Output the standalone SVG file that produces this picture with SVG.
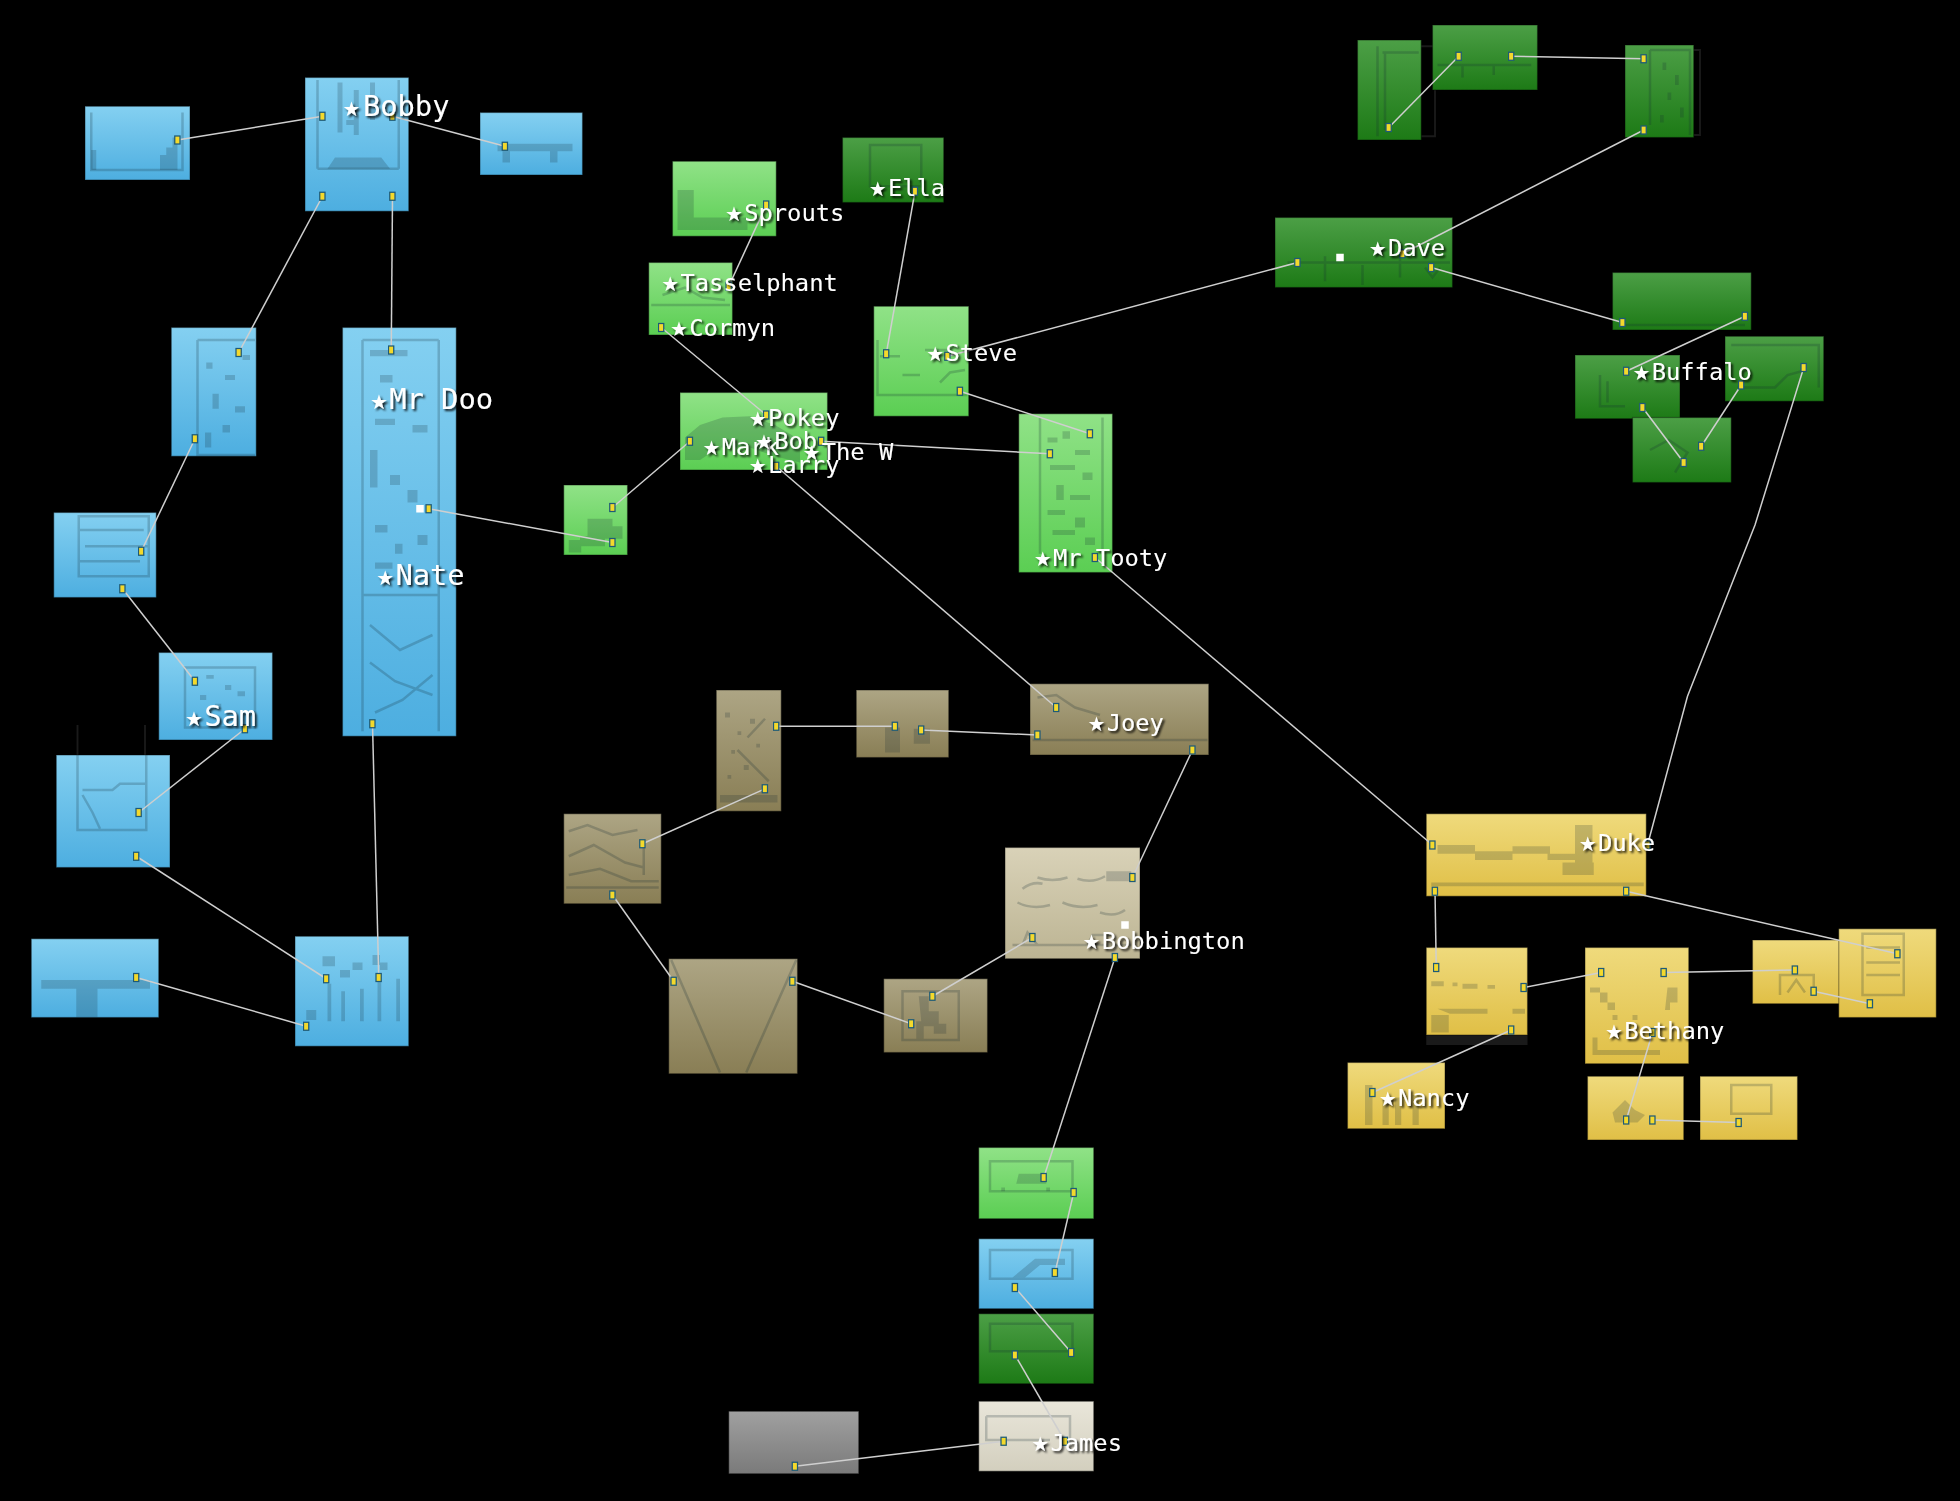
<svg xmlns="http://www.w3.org/2000/svg" width="1960" height="1501" viewBox="0 0 1960 1501">
<defs>
<linearGradient id="gBlue" x1="0" y1="0" x2="0" y2="1"><stop offset="0" stop-color="#84d0f1"/><stop offset="1" stop-color="#4daee0"/></linearGradient>
<linearGradient id="gLG" x1="0" y1="0" x2="0" y2="1"><stop offset="0" stop-color="#90e287"/><stop offset="1" stop-color="#5bce53"/></linearGradient>
<linearGradient id="gDG" x1="0" y1="0" x2="0" y2="1"><stop offset="0" stop-color="#4c9f46"/><stop offset="1" stop-color="#1d7a16"/></linearGradient>
<linearGradient id="gBr" x1="0" y1="0" x2="0" y2="1"><stop offset="0" stop-color="#ada584"/><stop offset="1" stop-color="#897e55"/></linearGradient>
<linearGradient id="gBeige" x1="0" y1="0" x2="0" y2="1"><stop offset="0" stop-color="#d9d2b8"/><stop offset="1" stop-color="#bcb493"/></linearGradient>
<linearGradient id="gY" x1="0" y1="0" x2="0" y2="1"><stop offset="0" stop-color="#efda7c"/><stop offset="1" stop-color="#e0bf46"/></linearGradient>
<linearGradient id="gGray" x1="0" y1="0" x2="0" y2="1"><stop offset="0" stop-color="#a0a0a0"/><stop offset="1" stop-color="#7a7a7a"/></linearGradient>
<linearGradient id="gPale" x1="0" y1="0" x2="0" y2="1"><stop offset="0" stop-color="#e9e6da"/><stop offset="1" stop-color="#d3cfbe"/></linearGradient>
<marker id="ep" markerWidth="6" markerHeight="9" refX="3" refY="4.5" markerUnits="userSpaceOnUse">
<rect x="0.8" y="1.3" width="4.2" height="6.4" fill="#f4d92c" stroke="#1d5a78" stroke-width="1"/>
</marker>
<filter id="ds" x="-10%" y="-30%" width="130%" height="170%">
<feDropShadow dx="1.6" dy="1.6" stdDeviation="0.7" flood-color="#000" flood-opacity="0.85"/>
</filter>
<style>
.box{stroke:rgba(0,0,0,0.35);stroke-width:1}
.blue{fill:url(#gBlue)} .lg{fill:url(#gLG)} .dg{fill:url(#gDG)} .br{fill:url(#gBr)}
.beige{fill:url(#gBeige)} .yel{fill:url(#gY)} .gray{fill:url(#gGray)} .pale{fill:url(#gPale)}
.af{fill:rgba(20,40,50,0.2);stroke:none}
.as{fill:none;stroke:rgba(20,40,50,0.22);stroke-width:2}
.conn line,.conn polyline{stroke:#cfcfcf;stroke-width:1.2;fill:none;marker-start:url(#ep);marker-end:url(#ep)}
.lbl{font-family:"DejaVu Sans Mono","Liberation Mono",monospace;fill:#ffffff;font-size:19px;filter:url(#ds)}
.big{font-size:23px}
.st{font-family:"DejaVu Sans",sans-serif;font-size:16px}
.wsq{fill:#ffffff}
.dk{fill:none;stroke:#1a1a1a;stroke-width:1.5}
</style>
</defs>
<rect x="0" y="0" width="1960" height="1501" fill="#000000"/>
<g transform="scale(1.25)">

<!-- BLUE AREA -->
<g id="b1"><rect class="box blue" x="68" y="85" width="84" height="59"/>
<path class="as" d="M73,90 V136 H146 V90"/>
<path class="af" d="M73,120 h4 v16 h-4z M128,124 h5 v-6 h5 v-8 h4 v26 h-14z"/></g>
<g id="b2"><rect class="box blue" x="244" y="62" width="83" height="107"/>
<path class="as" d="M254,64 V135 M319,64 V135 M254,135 H319"/>
<path class="af" d="M262,135 L268,126 H305 L312,135z M270,66 h4 v40 h-4z M283,72 h4 v36 h-4z M296,66 h4 v30 h-4z M277,96 h10 v4 h-10z"/></g>
<g id="b3"><rect class="box blue" x="384" y="90" width="82" height="50"/>
<path class="af" d="M398,115 H458 V121 H446 V130 H440 V121 H408 V130 H402 V121 H398z"/></g>
<g id="b4"><rect class="box blue" x="137" y="262" width="68" height="103"/>
<path class="as" d="M158,272 H204 M158,272 V364 H204"/>
<path class="af" d="M165,290 h5 v5 h-5z M180,300 h8 v4 h-8z M170,315 h5 v12 h-5z M188,325 h8 v5 h-8z M178,340 h6 v6 h-6z M194,284 h6 v4 h-6z M164,346 h5 v12 h-5z"/></g>
<g id="b5"><rect class="box blue" x="274" y="262" width="91" height="327"/>
<path class="as" d="M290,272 V585 M351,272 V585 M290,272 H351 M290,476 H351"/>
<path class="af" d="M296,280 h30 v5 h-30z M304,300 h10 v6 h-10z M322,315 h8 v8 h-8z M300,335 h16 v5 h-16z M330,340 h12 v6 h-12z M296,360 h6 v30 h-6z M312,380 h8 v8 h-8z M326,392 h8 v10 h-8z M300,420 h10 v6 h-10z M316,435 h6 v8 h-6z M334,428 h8 v8 h-8z M300,450 h14 v5 h-14z"/>
<path class="as" d="M296,500 L320,520 L346,508 M296,530 L316,545 L346,556 M300,570 L322,560 L346,540"/>
<rect class="wsq" x="333" y="404" width="6" height="6"/></g>
<g id="b6"><rect class="box blue" x="43" y="410" width="82" height="68"/>
<path class="as" d="M63,413 H119 V461 H63z M63,424 H115 M68,437 H119 M63,449 H112"/></g>
<g id="b7"><rect class="box blue" x="127" y="522" width="91" height="70"/>
<path class="as" d="M148,534 H204 V582 H148z"/>
<path class="af" d="M165,540 h6 v3 h-6z M180,548 h5 v4 h-5z M160,556 h5 v4 h-5z M190,553 h6 v4 h-6z M172,563 h5 v4 h-5z"/></g>
<g id="b8"><path class="dk" d="M62,580 V604 M116,580 V604"/>
<rect class="box blue" x="45" y="604" width="91" height="90"/>
<path class="as" d="M62,604 V664 H117 V604 M66,632 H90 L96,627 H116 M66,636 L74,650 L80,663"/></g>
<g id="b9"><rect class="box blue" x="25" y="751" width="102" height="63"/>
<path class="af" d="M33,784 H120 V791 H78 V814 H61 V791 H33z"/></g>
<g id="b10"><rect class="box blue" x="236" y="749" width="91" height="88"/>
<path class="af" d="M258,765 h10 v8 h-10z M272,776 h8 v6 h-8z M282,770 h8 v6 h-8z M298,764 h6 v8 h-6z M304,770 h6 v6 h-6z M262,787 h3 v30 h-3z M273,793 h3 v24 h-3z M288,791 h3 v26 h-3z M302,785 h3 v32 h-3z M317,783 h3 v34 h-3z M245,808 h8 v8 h-8z"/></g>

<!-- LIGHT GREEN AREA -->
<g id="g1"><rect class="box lg" x="538" y="129" width="83" height="60"/>
<path class="af" d="M542,152 h13 v22 h43 v10 h-56z"/></g>
<g id="g2"><rect class="box lg" x="519" y="210" width="67" height="58"/>
<path class="as" d="M521,244 H584 M530,236 L548,230 L562,238 L580,240"/></g>
<g id="g3"><rect class="box dg" x="674" y="110" width="81" height="52"/>
<path class="as" d="M696,116 H737 V149 H696z"/></g>
<g id="g4"><rect class="box lg" x="699" y="245" width="76" height="88"/>
<path class="as" d="M702,272 V316 H774 M704,285 H720 M722,300 H736 M740,280 H760 M752,306 L760,298 L772,296"/></g>
<g id="g5"><rect class="box lg" x="544" y="314" width="118" height="62"/>
<path class="af" d="M548,350 L560,340 L578,334 L600,333 L620,340 L640,352 L640,370 L620,365 L600,358 L575,358 L560,368 L548,368z" /></g>
<g id="g6"><rect class="box lg" x="451" y="388" width="51" height="56"/>
<path class="af" d="M470,415 h20 v6 h8 v10 h-14 v6 h-20 v-8 h6z M455,432 h10 v10 h-10z"/></g>
<g id="g7"><rect class="box lg" x="815" y="331" width="75" height="127"/>
<path class="as" d="M832,334 V443 M882,334 V443"/>
<path class="af" d="M838,350 h8 v4 h-8z M850,345 h6 v6 h-6z M860,360 h12 v4 h-12z M840,372 h20 v4 h-20z M866,378 h8 v6 h-8z M845,388 h6 v12 h-6z M856,396 h16 v4 h-16z M838,408 h14 v4 h-14z M860,414 h8 v8 h-8z M842,424 h18 v4 h-18z M868,430 h8 v6 h-8z"/></g>

<!-- DARK GREEN AREA -->
<g id="d1"><path class="dk" d="M1102,37 H1148 V109 H1137"/>
<rect class="box dg" x="1086" y="32" width="51" height="80"/>
<path class="as" d="M1102,37 V109 M1106,42 H1135 M1108,42 V104"/></g>
<g id="d2"><rect class="box dg" x="1146" y="20" width="84" height="52"/>
<path class="as" d="M1150,52 H1225 M1170,52 V62 M1195,52 V60"/></g>
<g id="d3"><path class="dk" d="M1340,40 H1360 V108 H1355"/>
<rect class="box dg" x="1300" y="36" width="55" height="74"/>
<path class="as" d="M1320,40 H1352 V108 M1320,40 V100"/>
<path class="af" d="M1330,50 h3 v6 h-3z M1340,60 h3 v8 h-3z M1334,74 h3 v6 h-3z M1344,86 h3 v8 h-3z M1328,92 h3 v6 h-3z"/></g>
<g id="d4"><rect class="box dg" x="1020" y="174" width="142" height="56"/>
<path class="as" d="M1030,210 H1160 M1060,205 V225 M1090,212 V228 M1120,206 V222 M1140,214 L1146,222 L1152,214"/>
<rect class="wsq" x="1069" y="203" width="6" height="6"/></g>
<g id="d5"><rect class="box dg" x="1290" y="218" width="111" height="46"/>
<path class="as" d="M1300,260 H1396"/></g>
<g id="d6"><rect class="box dg" x="1260" y="284" width="84" height="51"/>
<path class="as" d="M1280,300 V325 H1300 M1286,305 V322"/></g>
<g id="d7"><rect class="box dg" x="1380" y="269" width="79" height="52"/>
<path class="as" d="M1385,276 H1455 V310 M1390,310 H1420 L1430,300 L1445,296"/></g>
<g id="d8"><rect class="box dg" x="1306" y="334" width="79" height="52"/>
<path class="as" d="M1320,360 L1335,352 L1350,362 L1340,378"/></g>

<!-- BROWN AREA -->
<g id="r1"><rect class="box br" x="573" y="552" width="52" height="97"/>
<path class="af" d="M580,570 h4 v4 h-4z M590,585 h3 v3 h-3z M600,575 h4 v4 h-4z M585,600 h3 v3 h-3z M605,595 h3 v3 h-3z M595,612 h4 v4 h-4z M582,620 h3 v3 h-3z M576,636 h46 v6 h-46z"/>
<path class="as" d="M590,600 L615,625 M598,590 L612,575"/></g>
<g id="r2"><rect class="box br" x="685" y="552" width="74" height="54"/>
<path class="af" d="M708,582 h12 v20 h-12z M731,583 h13 v12 h-13z"/></g>
<g id="r3"><rect class="box br" x="824" y="547" width="143" height="57"/>
<path class="as" d="M826,592 H966 M830,558 L845,556 L860,566 L880,572"/></g>
<g id="r4"><rect class="box br" x="451" y="651" width="78" height="72"/>
<path class="as" d="M455,665 L470,660 L490,668 L510,664 M455,685 L475,676 L500,690 L515,694 M455,700 L480,695 L505,705 L527,705 M453,710 H527 M515,672 V700"/></g>
<g id="r5"><rect class="box br" x="535" y="767" width="103" height="92"/>
<path class="as" d="M537,768 L576,858 M637,768 L597,858"/></g>
<g id="r6"><rect class="box br" x="707" y="783" width="83" height="59"/>
<path class="as" d="M722,793 H767 V832 H722z"/>
<path class="af" d="M735,797 h8 v12 h8 v10 h6 v8 h-10 v-6 h-8 v10 h-6 v-14 h4z"/></g>
<g id="r7"><rect class="box beige" x="804" y="678" width="108" height="89"/>
<path class="as" d="M818,711 q8,-6 16,-4 M830,702 q12,4 24,0 M862,703 q12,4 22,-2 M814,722 q12,6 26,2 M850,722 q14,6 28,2 M880,730 q12,4 20,-2 M810,756 H905 M818,756 L822,746 L830,756 M870,756 L874,748 L890,748"/>
<path class="af" d="M885,697 h20 v8 h-20z"/>
<rect class="wsq" x="897" y="737" width="6" height="6"/></g>

<!-- YELLOW AREA -->
<g id="y1"><rect class="box yel" x="1141" y="651" width="176" height="66"/>
<path class="af" d="M1150,676 h30 v5 h30 v-4 h30 v6 h20 v5 h-22 v-5 h-28 v5 h-30 v-5 h-30z M1260,660 h14 v40 h-14z M1250,690 h25 v10 h-25z M1145,706 H1315 V709 H1145z"/></g>
<g id="y2"><rect x="1141" y="828" width="81" height="8" fill="#1a1a1a"/>
<rect class="box yel" x="1141" y="758" width="81" height="70"/>
<path class="af" d="M1145,785 h10 v4 h-10z M1162,786 h4 v3 h-4z M1170,787 h12 v4 h-12z M1190,788 h6 v3 h-6z M1150,807 h40 v4 h20 v-4 h10 v4 h-60z M1145,812 h14 v14 h-14z"/></g>
<g id="y3"><rect class="box yel" x="1268" y="758" width="83" height="93"/>
<path class="af" d="M1272,790 h8 v4 h6 v8 h6 v6 h-6 v-6 h-6 v-8 h-8z M1334,790 h8 v12 h-6 v6 h-4z M1290,812 h4 v4 h-4z M1306,812 h4 v4 h-4z M1274,830 h4 v10 h50 v4 h-54z"/></g>
<g id="y4"><rect class="box yel" x="1402" y="752" width="87" height="51"/>
<path class="as" d="M1424,796 V780 H1451 V796 M1430,794 L1437,784 L1444,794"/></g>
<g id="y5"><rect class="box yel" x="1471" y="743" width="78" height="71"/>
<path class="as" d="M1490,747 H1523 V796 H1490z M1493,758 H1520 M1493,770 H1520 M1493,780 H1520"/></g>
<g id="y6"><rect class="box yel" x="1078" y="850" width="78" height="53"/>
<path class="af" d="M1092,868 h6 v32 h-6z M1106,880 h5 v20 h-5z M1116,878 h5 v22 h-5z M1130,876 h5 v24 h-5z"/></g>
<g id="y7"><rect class="box yel" x="1270" y="861" width="77" height="51"/>
<path class="af" d="M1290,890 L1300,880 L1308,888 L1316,892 L1310,898 L1292,898z"/></g>
<g id="y8"><rect class="box yel" x="1360" y="861" width="78" height="51"/>
<path class="as" d="M1385,868 H1417 V891 H1385z"/></g>

<!-- BOTTOM COLUMN -->
<g id="c1"><rect class="box lg" x="783" y="918" width="92" height="57"/>
<path class="as" d="M792,929 H858 V953 H792z"/>
<path class="af" d="M815,939 h22 v8 h-24z M801,950 h3 v3 h-3z M837,950 h3 v3 h-3z"/></g>
<g id="c2"><rect class="box blue" x="783" y="991" width="92" height="56"/>
<path class="as" d="M792,1000 H858 V1023 H792z"/>
<path class="af" d="M810,1022 L828,1007 H852 V1012 H832 L820,1022z"/></g>
<g id="c3"><rect class="box dg" x="783" y="1051" width="92" height="56"/>
<path class="as" d="M792,1059 H858 V1081 H792z"/></g>
<g id="c4"><rect class="box pale" x="783" y="1121" width="92" height="56"/>
<path class="as" d="M789,1133 H856 V1156 M789,1133 V1152 H840"/></g>
<g id="c5"><rect class="box gray" x="583" y="1129" width="104" height="50"/></g>

<!-- CONNECTORS -->
<g id="connectors" class="conn">
<line x1="142" y1="112" x2="258" y2="93"/>
<line x1="314" y1="93" x2="404" y2="117"/>
<line x1="258" y1="157" x2="191" y2="282"/>
<line x1="314" y1="157" x2="313" y2="280"/>
<line x1="156" y1="351" x2="113" y2="441"/>
<line x1="98" y1="471" x2="156" y2="545"/>
<line x1="196" y1="583" x2="111" y2="650"/>
<line x1="109" y1="685" x2="261" y2="783"/>
<line x1="298" y1="579" x2="303" y2="782"/>
<line x1="109" y1="782" x2="245" y2="821"/>
<line x1="343" y1="407" x2="490" y2="434"/>
<line x1="490" y1="406" x2="552" y2="353"/>
<line x1="613" y1="164" x2="583" y2="229"/>
<line x1="529" y1="262" x2="613" y2="332"/>
<line x1="657" y1="353" x2="840" y2="363"/>
<line x1="732" y1="153" x2="709" y2="283"/>
<line x1="768" y1="313" x2="872" y2="347"/>
<line x1="758" y1="285" x2="1038" y2="210"/>
<line x1="621" y1="373" x2="845" y2="566"/>
<line x1="876" y1="446" x2="1146" y2="676"/>
<line x1="1111" y1="102" x2="1167" y2="45"/>
<line x1="1209" y1="45" x2="1315" y2="47"/>
<line x1="1315" y1="104" x2="1122" y2="203"/>
<line x1="1145" y1="214" x2="1298" y2="258"/>
<line x1="1396" y1="253" x2="1301" y2="297"/>
<line x1="1314" y1="326" x2="1347" y2="370"/>
<line x1="1361" y1="357" x2="1393" y2="308"/>
<polyline points="1443,294 1404,420 1350,557 1318,676"/>
<line x1="621" y1="581" x2="716" y2="581"/>
<line x1="737" y1="584" x2="830" y2="588"/>
<line x1="954" y1="600" x2="906" y2="702"/>
<line x1="612" y1="631" x2="514" y2="675"/>
<line x1="490" y1="716" x2="539" y2="785"/>
<line x1="634" y1="785" x2="729" y2="819"/>
<line x1="746" y1="797" x2="826" y2="750"/>
<line x1="892" y1="766" x2="835" y2="942"/>
<line x1="1148" y1="713" x2="1149" y2="774"/>
<line x1="1301" y1="713" x2="1518" y2="763"/>
<line x1="1219" y1="790" x2="1281" y2="778"/>
<line x1="1331" y1="778" x2="1436" y2="776"/>
<line x1="1451" y1="793" x2="1496" y2="803"/>
<line x1="1209" y1="824" x2="1098" y2="874"/>
<line x1="1322" y1="826" x2="1301" y2="896"/>
<line x1="1322" y1="896" x2="1391" y2="898"/>
<line x1="859" y1="954" x2="844" y2="1018"/>
<line x1="812" y1="1030" x2="857" y2="1082"/>
<line x1="812" y1="1084" x2="852" y2="1153"/>
<line x1="803" y1="1153" x2="636" y2="1173"/>
</g>

<!-- LABELS -->
<g id="labels">
<text class="lbl big" x="274" y="93"><tspan class="st">★</tspan><tspan dx="2">Bobby</tspan></text>
<text class="lbl big" x="296" y="327"><tspan class="st">★</tspan><tspan dx="1">Mr Doo</tspan></text>
<text class="lbl big" x="301" y="468"><tspan class="st">★</tspan><tspan dx="1">Nate</tspan></text>
<text class="lbl big" x="148" y="581"><tspan class="st">★</tspan><tspan dx="1">Sam</tspan></text>
<text class="lbl" x="580" y="177"><tspan class="st">★</tspan><tspan dx="1">Sprouts</tspan></text>
<text class="lbl" x="529" y="233"><tspan class="st">★</tspan><tspan dx="1">Tasselphant</tspan></text>
<text class="lbl" x="536" y="269"><tspan class="st">★</tspan><tspan dx="1">Cormyn</tspan></text>
<text class="lbl" x="695" y="157"><tspan class="st">★</tspan><tspan dx="1">Ella</tspan></text>
<text class="lbl" x="741" y="289"><tspan class="st">★</tspan><tspan dx="1">Steve</tspan></text>
<text class="lbl" x="599" y="341"><tspan class="st">★</tspan><tspan dx="1">Pokey</tspan></text>
<text class="lbl" x="562" y="364"><tspan class="st">★</tspan><tspan dx="1">Mark</tspan></text>
<text class="lbl" x="604" y="359"><tspan class="st">★</tspan><tspan dx="1">Bob</tspan></text>
<text class="lbl" x="642" y="368"><tspan class="st">★</tspan><tspan dx="1">The W</tspan></text>
<text class="lbl" x="599" y="378"><tspan class="st">★</tspan><tspan dx="1">Larry</tspan></text>
<text class="lbl" x="827" y="453"><tspan class="st">★</tspan><tspan dx="1">Mr Tooty</tspan></text>
<text class="lbl" x="1095" y="205"><tspan class="st">★</tspan><tspan dx="1">Dave</tspan></text>
<text class="lbl" x="1306" y="304"><tspan class="st">★</tspan><tspan dx="1">Buffalo</tspan></text>
<text class="lbl" x="870" y="585"><tspan class="st">★</tspan><tspan dx="1">Joey</tspan></text>
<text class="lbl" x="866" y="759"><tspan class="st">★</tspan><tspan dx="1">Bobbington</tspan></text>
<text class="lbl" x="1263" y="681"><tspan class="st">★</tspan><tspan dx="1">Duke</tspan></text>
<text class="lbl" x="1284" y="831"><tspan class="st">★</tspan><tspan dx="1">Bethany</tspan></text>
<text class="lbl" x="1103" y="885"><tspan class="st">★</tspan><tspan dx="1">Nancy</tspan></text>
<text class="lbl" x="825" y="1161"><tspan class="st">★</tspan><tspan dx="1">James</tspan></text>
</g>
</g>
</svg>
